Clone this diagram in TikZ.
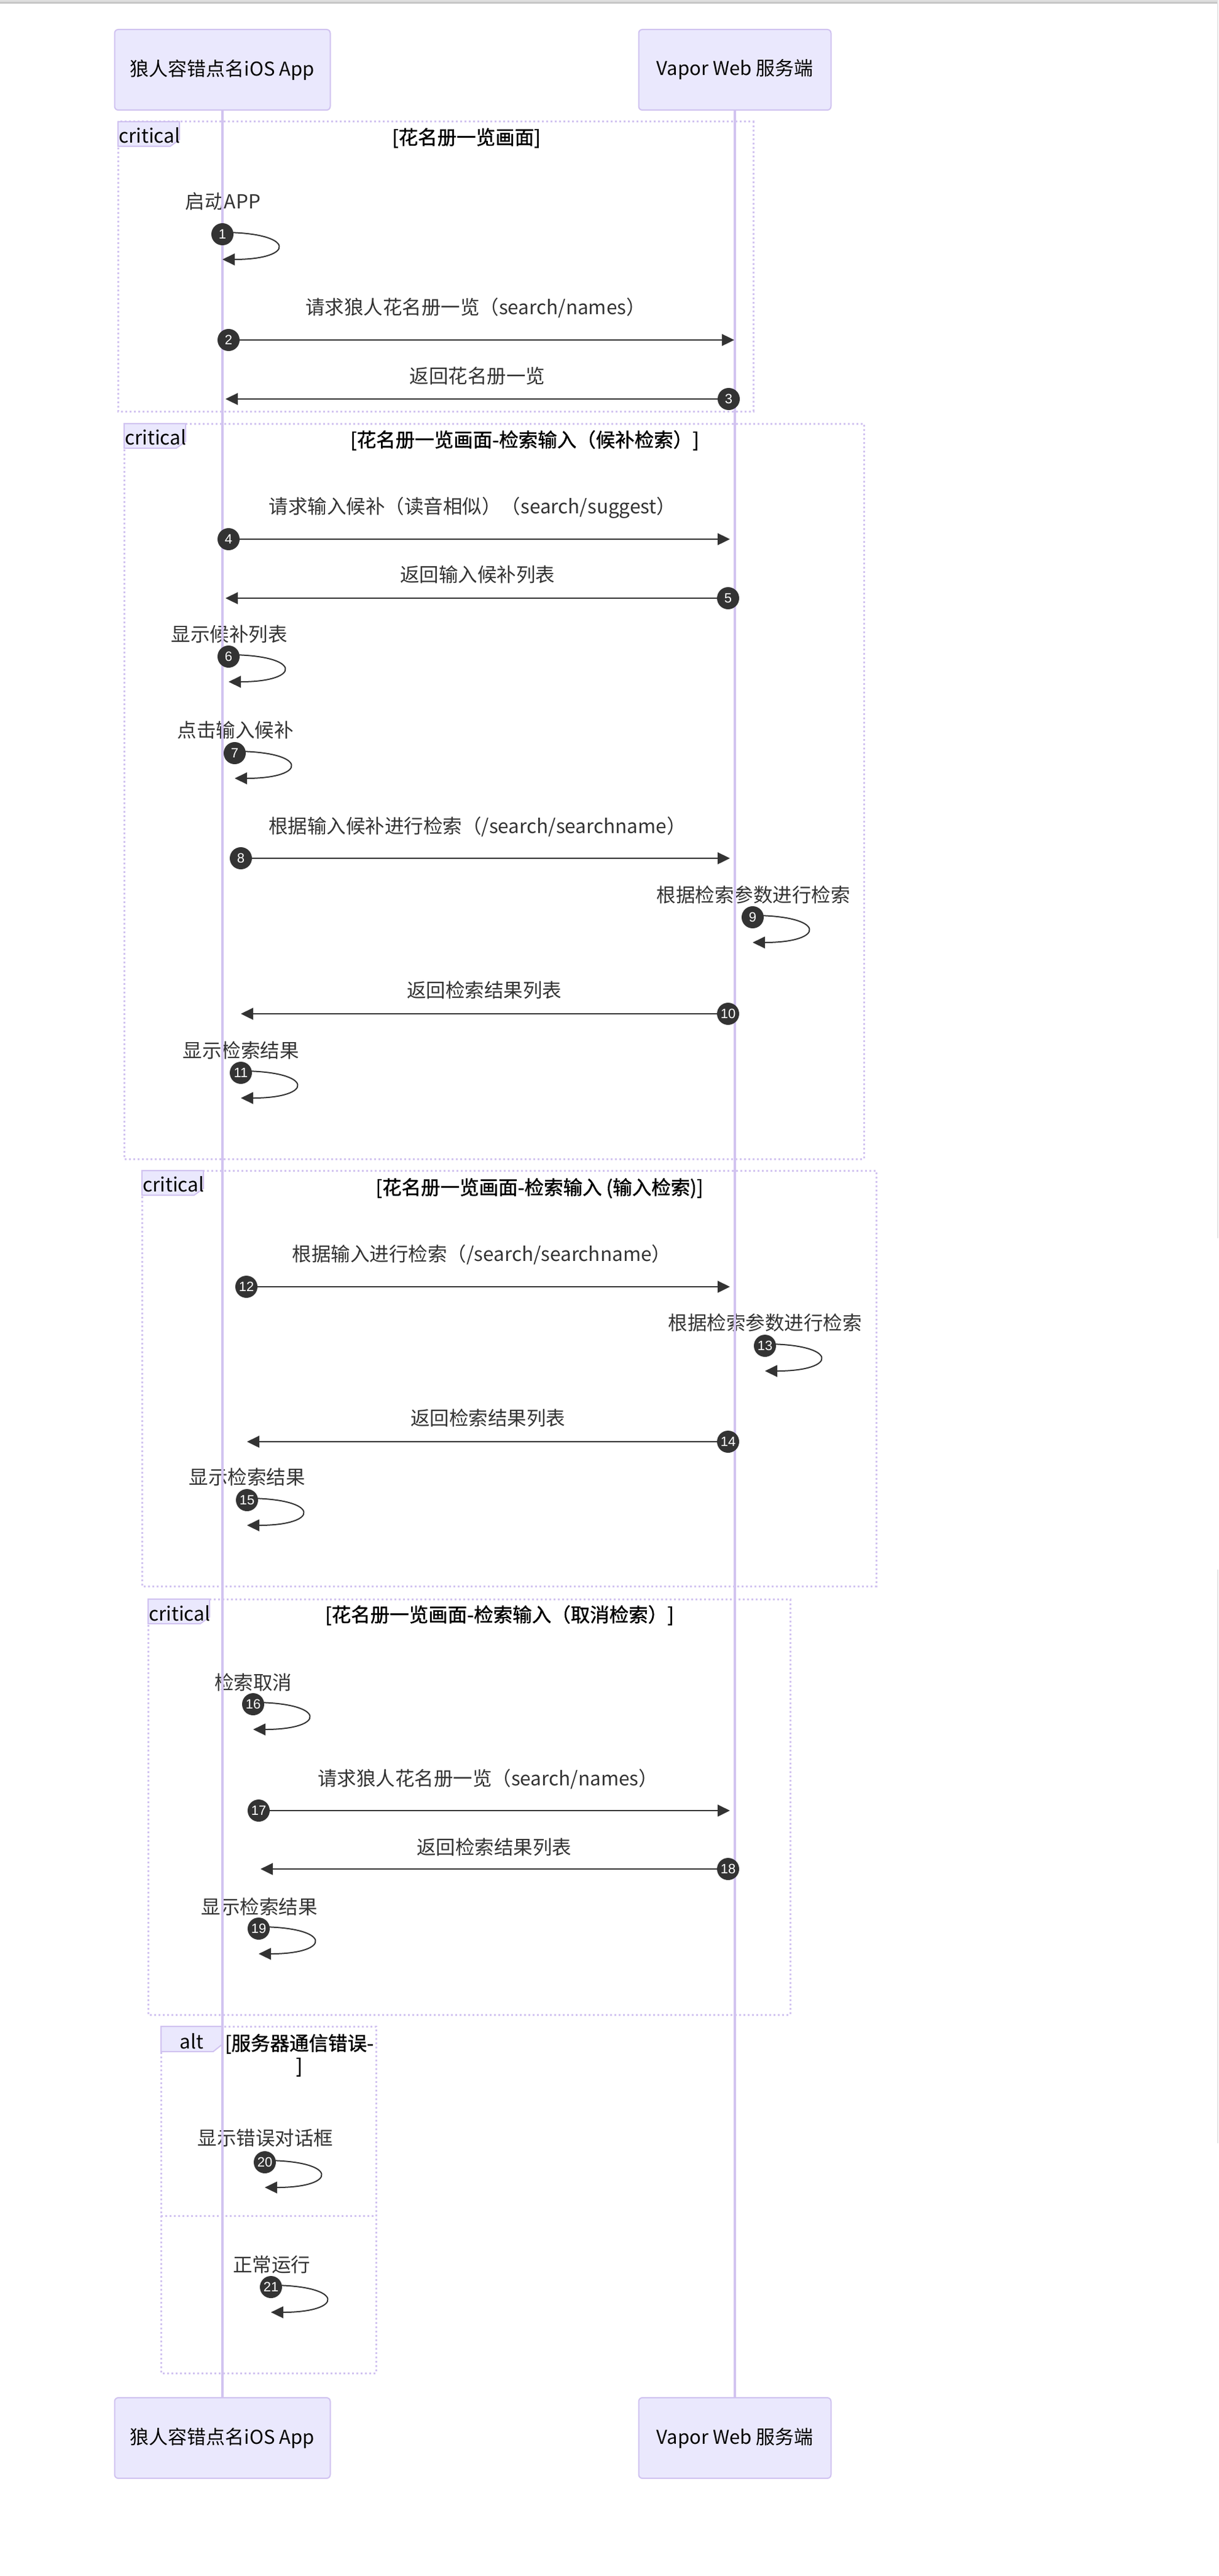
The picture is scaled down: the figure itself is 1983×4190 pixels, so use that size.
\documentclass[tikz,border=0pt]{standalone}
\usepackage{fontspec}
\setmainfont{Noto Sans CJK SC}
\newfontfamily\titlefont[FakeBold=1.2]{Noto Sans CJK SC}
\newfontfamily\numfont{Liberation Sans}
\usetikzlibrary{arrows.meta}
\definecolor{lifecol}{RGB}{210,196,240}
\definecolor{actfill}{RGB}{234,232,253}
\definecolor{actdraw}{RGB}{208,194,240}
\definecolor{msgcol}{RGB}{51,51,51}
\tikzset{
  actorbox/.style={draw=actdraw, fill=actfill, line width=1pt, rounded corners=3pt,
    minimum width=175.5pt, minimum height=65.5pt, inner sep=0pt, text=black,
    font=\fontsize{15.5pt}{18pt}\selectfont},
  lifeline/.style={draw=lifecol, line width=1.75pt},
  framebox/.style={draw=lifecol, line width=1.5pt, dash pattern=on 1.6pt off 1.9pt},
  labelbox/.style={draw=actdraw, fill=actfill, line width=1pt},
  msgline/.style={draw=msgcol, line width=1.2pt, -{Triangle[length=10pt,width=9.5pt]}},
  loopline/.style={draw=msgcol, line width=1pt, -{Triangle[length=10pt,width=9.5pt]}},
  seqnum/.style={circle, fill=msgcol, minimum size=18pt, inner sep=0pt, text=white,
    font=\numfont\fontsize{11pt}{11pt}\selectfont},
  msgtext/.style={inner sep=0pt, text=msgcol, text height=13.86pt, text depth=1.89pt,
    font=\fontsize{15.75pt}{19pt}\selectfont},
  titletext/.style={inner sep=0pt, text=black, text height=13.86pt, text depth=1.89pt,
    font=\titlefont\fontsize{15.75pt}{19pt}\selectfont},
  labtext/.style={inner sep=0pt, text=black, text height=13.86pt, text depth=1.89pt,
    font=\fontsize{15.75pt}{19pt}\selectfont},
}
% self message: name, cx, cy, number
\newcommand\seqself[4]{%
  \coordinate (#1s) at (#2,#3-3);
  \coordinate (#1e) at (#2,#3+41);
  \draw[loopline] (#1s) .. controls (#2+120,#3-3) and (#2+120,#3+41) .. (#1e);
  \node[seqnum] (#1) at (#2,#3) {#4};
}
% straight message: name, sx, tx, y, number
\newcommand\seqmsg[5]{%
  \coordinate (#1s) at (#2,#4);
  \coordinate (#1t) at (#3,#4);
  \draw[msgline] (#1s) -- (#1t);
  \node[seqnum] (#1) at (#1s) {#5};
}
\begin{document}
\begin{tikzpicture}[x=0.5pt,y=-0.5pt]
\useasboundingbox (0,0) rectangle (1983,4190);
\fill[white] (0,0) rectangle (1983,4190);
% screenshot edges
\fill[black!13] (0,0) rectangle (1983,3);
\fill[black!22] (0,3) rectangle (1983,6.5);
\fill[black!10] (1981,0) rectangle (1983,2014);
\fill[black!10] (1981,2553) rectangle (1983,3486);

% participants
\node[actorbox] (app) at (362,113.5) {狼人容错点名iOS App};
\node[actorbox, minimum width=156.5pt] (srv) at (1196,113.5) {Vapor Web 服务端};
\node[actorbox] (appb) at (362,3965.5) {狼人容错点名iOS App};
\node[actorbox, minimum width=156.5pt] (srvb) at (1196,3965.5) {Vapor Web 服务端};

% frames
\draw[framebox] (192,198) rectangle (1226,669);
\draw[labelbox] (192,198) -- (292,198) -- (292,227) -- (277,238) -- (192,238) -- cycle;
\node[labtext, anchor=west] (f1l) at (193,221) {critical};
\node[titletext] (f1t) at (759,223) {[花名册一览画面]};

\draw[framebox] (202,689) rectangle (1406,1885);
\draw[labelbox] (202,689) -- (302,689) -- (302,718) -- (287,729) -- (202,729) -- cycle;
\node[labtext, anchor=west] (f2l) at (203,712) {critical};
\node[titletext] (f2t) at (854,715) {[花名册一览画面-检索输入（候补检索）]};

\draw[framebox] (231,1904) rectangle (1426,2580);
\draw[labelbox] (231,1904) -- (331,1904) -- (331,1933) -- (316,1944) -- (231,1944) -- cycle;
\node[labtext, anchor=west] (f3l) at (232,1927) {critical};
\node[titletext] (f3t) at (878,1931) {[花名册一览画面-检索输入 (输入检索)]};

\draw[framebox] (241,2601) rectangle (1286,3277);
\draw[labelbox] (241,2601) -- (341,2601) -- (341,2630) -- (326,2641) -- (241,2641) -- cycle;
\node[labtext, anchor=west] (f4l) at (242,2624) {critical};
\node[titletext] (f4t) at (813,2626) {[花名册一览画面-检索输入（取消检索）]};

\draw[framebox] (262,3296) rectangle (612,3860);
\draw[framebox] (262,3604) -- (612,3604);
\draw[labelbox] (262,3296) -- (362,3296) -- (362,3325) -- (347,3337) -- (262,3337) -- cycle;
\node[labtext] (f5l) at (312,3320) {alt};
\node[titletext] (f5t) at (487,3323) {[服务器通信错误-};
\node[titletext] (f5u) at (487,3360) {]};

% message texts
\node[msgtext] (m1) at (363,328) {启动APP};
\node[msgtext] (m2) at (774,500) {请求狼人花名册一览（search/names）};
\node[msgtext] (m3) at (777,612) {返回花名册一览};
\node[msgtext] (m4) at (769,824) {请求输入候补（读音相似）（search/suggest）};
\node[msgtext] (m5) at (777,935) {返回输入候补列表};
\node[msgtext] (m6) at (373,1032) {显示候补列表};
\node[msgtext] (m7) at (383,1188) {点击输入候补};
\node[msgtext] (m8) at (777,1344) {根据输入候补进行检索（/search/searchname）};
\node[msgtext] (m9) at (1226,1456) {根据检索参数进行检索};
\node[msgtext] (m10) at (788,1611) {返回检索结果列表};
\node[msgtext] (m11) at (392,1709) {显示检索结果};
\node[msgtext] (m12) at (784,2040) {根据输入进行检索（/search/searchname）};
\node[msgtext] (m13) at (1245,2152) {根据检索参数进行检索};
\node[msgtext] (m14) at (794,2307) {返回检索结果列表};
\node[msgtext] (m15) at (402,2403) {显示检索结果};
\node[msgtext] (m16) at (412,2736) {检索取消};
\node[msgtext] (m17) at (794,2892) {请求狼人花名册一览（search/names）};
\node[msgtext] (m18) at (804,3004) {返回检索结果列表};
\node[msgtext] (m19) at (422,3101) {显示检索结果};
\node[msgtext] (m20) at (432,3477) {显示错误对话框};
\node[msgtext] (m21) at (442,3683) {正常运行};

% lifelines
\draw[lifeline] (app.south) -- (appb.north);
\draw[lifeline] (srv.south) -- (srvb.north);

% messages
\seqself{n1}{362}{381}{1}
\seqmsg{n2}{372}{1195}{553}{2}
\seqmsg{n3}{1186}{367}{649}{3}
\seqmsg{n4}{372}{1188}{877}{4}
\seqmsg{n5}{1185}{367}{973}{5}
\seqself{n6}{372}{1068}{6}
\seqself{n7}{382}{1225}{7}
\seqmsg{n8}{392}{1188}{1396}{8}
\seqself{n9}{1225}{1492}{9}
\seqmsg{n10}{1185}{392}{1649}{10}
\seqself{n11}{392}{1745}{11}
\seqmsg{n12}{401}{1188}{2093}{12}
\seqself{n13}{1245}{2189}{13}
\seqmsg{n14}{1185}{402}{2345}{14}
\seqself{n15}{402}{2440}{15}
\seqself{n16}{412}{2772}{16}
\seqmsg{n17}{421}{1188}{2945}{17}
\seqmsg{n18}{1185}{424}{3040}{18}
\seqself{n19}{421}{3137}{19}
\seqself{n20}{431}{3517}{20}
\seqself{n21}{441}{3720}{21}
\end{tikzpicture}
\end{document}
